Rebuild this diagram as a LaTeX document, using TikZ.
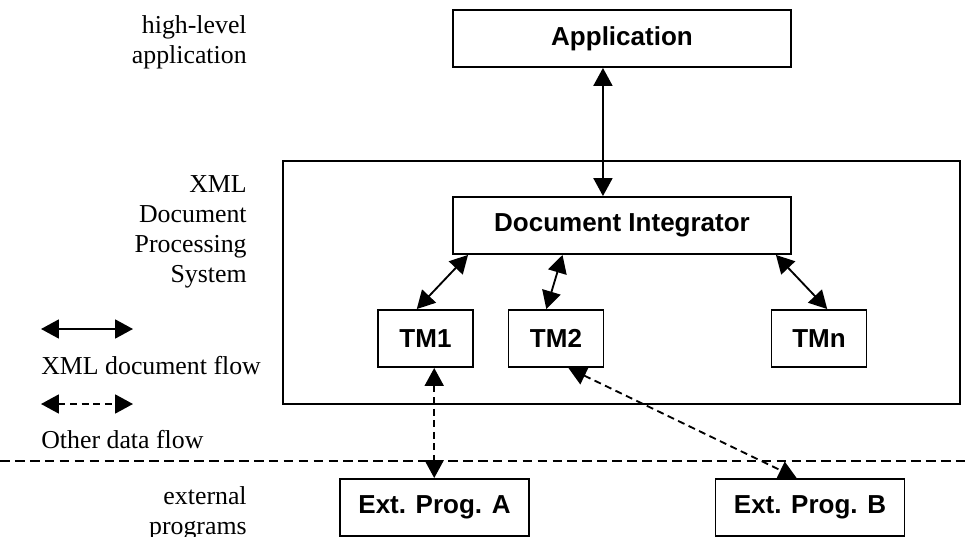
\documentclass[tikz,border=0pt]{standalone}
\usepackage{fontspec}
\setmainfont{Liberation Serif}
\setsansfont{Liberation Sans}
\usetikzlibrary{arrows.meta, calc}

\begin{document}
\begin{tikzpicture}[%
        x = 0.02cm, y = -0.02cm,
        > = {Triangle[length = 10.2pt, width = 10.8pt]},
        flow/.style = {<->, line width = 1.05pt},
        dataflow/.style = {flow, dash pattern = on 4pt off 2.6pt},
        block/.style = {
            draw, line width = 1.1pt, inner sep = 0pt, minimum height = 1.14cm,
            font = \sffamily\bfseries\fontsize{14.8}{17}\selectfont
        },
        tag/.style = {
            anchor = east, align = right, inner sep = 0pt,
            font = \fontsize{14.7}{17}\selectfont
        }
    ]
        \useasboundingbox (0, 0) rectangle (968, 537);

        % side labels
        \node[tag] (lvl_app) at (247, 42) {high-level\\application};
        \node[tag] (lvl_sys) at (247, 232) {XML\\Document\\Processing\\System};
        \node[tag] (lvl_ext) at (247, 513) {external\\programs};

        % boxes
        \node[block, minimum width = 6.76cm] (app) at (622, 38.5) {Application};
        \draw[line width = 1.1pt] (283, 161) rectangle (960, 404);
        \node[block, minimum width = 6.76cm] (di) at (622, 225.5) {Document Integrator};
        \node[block, minimum width = 1.9cm] (tm1) at (425.5, 338.5) {TM1};
        \node[block, minimum width = 1.9cm] (tm2) at (556, 338.5) {TM2};
        \node[block, minimum width = 1.9cm] (tmn) at (819, 338.5) {TMn};
        \node[block, minimum width = 3.78cm] (exta) at (434.5, 507.5) {Ext. Prog. A};
        \node[block, minimum width = 3.78cm] (extb) at (810, 507.5) {Ext. Prog. B};

        % boundary to the external programs
        \draw[line width = 0.8pt, dash pattern = on 5.5pt off 3pt] (0, 461) to (968, 461);

        % XML document flow
        \coordinate (app_s) at ($(app.south west)!0.444!(app.south east)$);
        \draw[flow] (app_s) to (app_s |- di.north);
        \draw[flow] ($(di.south west)!0.047!(di.south east)$)
            to ($(tm1.north west)!0.41!(tm1.north east)$);
        \draw[flow] ($(di.south west)!0.325!(di.south east)$)
            to ($(tm2.north west)!0.40!(tm2.north east)$);
        \draw[flow] ($(di.south west)!0.953!(di.south east)$)
            to ($(tmn.north west)!0.585!(tmn.north east)$);

        % other data flow
        \coordinate (tm1_s) at ($(tm1.south west)!0.59!(tm1.south east)$);
        \draw[dataflow] (tm1_s) to (tm1_s |- exta.north);
        \draw[dataflow] ($(tm2.south west)!0.628!(tm2.south east)$)
            to ($(extb.north west)!0.43!(extb.north east)$);

        % legend
        \coordinate (leg_a) at (41, 329);
        \coordinate (leg_b) at (133, 329);
        \coordinate (leg_c) at (41, 404);
        \coordinate (leg_d) at (133, 404);
        \draw[flow] (leg_a) to (leg_b);
        \node[tag, anchor = west] (leg_xml) at (41, 366) {XML document flow};
        \draw[dataflow] (leg_c) to (leg_d);
        \node[tag, anchor = west] (leg_other) at (41, 440) {Other data flow};
    \end{tikzpicture}
\end{document}
